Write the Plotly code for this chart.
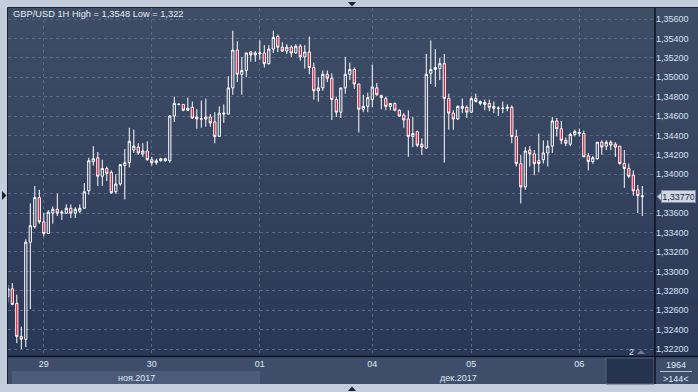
import plotly.graph_objects as go

W, H = 698, 392

# ---------------- data ----------------
title_text = "GBP/USD 1H High = 1,3548 Low = 1,322"
day_labels = ["29", "30", "01", "04", "05", "06"]
day_pos = [7, 31, 55, 80, 102, 126]
month_labels = ["ноя.2017", "дек.2017"]
price_ticks = [1.322, 1.324, 1.326, 1.328, 1.330, 1.332, 1.334, 1.336, 1.338,
               1.340, 1.342, 1.344, 1.346, 1.348, 1.350, 1.352, 1.354, 1.356]
bars_total = "1964"
bars_visible = ">144<"
scale_mark = "2"

opens = [1.3274, 1.3282, 1.3267, 1.3233, 1.3230, 1.3330, 1.3346, 1.3376, 1.3351, 1.3339,
         1.3360, 1.3364, 1.3360, 1.3360, 1.3365, 1.3360, 1.3362, 1.3365, 1.3383, 1.3413,
         1.3417, 1.3398, 1.3406, 1.3402, 1.3382, 1.3390, 1.3409, 1.3412, 1.3425, 1.3428,
         1.3421, 1.3424, 1.3415, 1.3412, 1.3414, 1.3416, 1.3414, 1.3460, 1.3472, 1.3472,
         1.3466, 1.3469, 1.3459, 1.3457, 1.3457, 1.3459, 1.3454, 1.3439, 1.3462, 1.3462,
         1.3489, 1.3528, 1.3503, 1.3507, 1.3526, 1.3523, 1.3524, 1.3525, 1.3514, 1.3529,
         1.3542, 1.3531, 1.3527, 1.3531, 1.3525, 1.3532, 1.3521, 1.3526, 1.3510, 1.3486,
         1.3489, 1.3503, 1.3499, 1.3477, 1.3464, 1.3489, 1.3503, 1.3508, 1.3493, 1.3467,
         1.3470, 1.3477, 1.3489, 1.3481, 1.3478, 1.3470, 1.3473, 1.3466, 1.3461, 1.3457,
         1.3439, 1.3444, 1.3431, 1.3427, 1.3504, 1.3508, 1.3509, 1.3514, 1.3478, 1.3463,
         1.3457, 1.3468, 1.3469, 1.3464, 1.3478, 1.3475, 1.3472, 1.3473, 1.3470, 1.3468,
         1.3468, 1.3468, 1.3469, 1.3439, 1.3411, 1.3387, 1.3425, 1.3421, 1.3414, 1.3415,
         1.3422, 1.3429, 1.3455, 1.3447, 1.3435, 1.3431, 1.3441, 1.3442, 1.3442, 1.3419,
         1.3413, 1.3416, 1.3433, 1.3429, 1.3433, 1.3431, 1.3429, 1.3411, 1.3406, 1.3399,
         1.3384, 1.3378]
highs = [1.3286, 1.3288, 1.3276, 1.3243, 1.3333, 1.3370, 1.3388, 1.3384, 1.3360, 1.3363,
         1.3367, 1.3380, 1.3363, 1.3369, 1.3369, 1.3366, 1.3369, 1.3391, 1.3417, 1.3429,
         1.3423, 1.3415, 1.3408, 1.3404, 1.3400, 1.3410, 1.3426, 1.3448, 1.3446, 1.3432,
         1.3432, 1.3434, 1.3418, 1.3416, 1.3417, 1.3417, 1.3461, 1.3480, 1.3473, 1.3472,
         1.3479, 1.3475, 1.3467, 1.3476, 1.3478, 1.3462, 1.3464, 1.3470, 1.3472, 1.3501,
         1.3548, 1.3537, 1.3521, 1.3525, 1.3527, 1.3527, 1.3538, 1.3533, 1.3533, 1.3548,
         1.3544, 1.3536, 1.3534, 1.3533, 1.3534, 1.3534, 1.3533, 1.3542, 1.3515, 1.3500,
         1.3507, 1.3507, 1.3504, 1.3480, 1.3489, 1.3521, 1.3515, 1.3510, 1.3493, 1.3482,
         1.3484, 1.3513, 1.3494, 1.3482, 1.3480, 1.3473, 1.3474, 1.3467, 1.3463, 1.3466,
         1.3459, 1.3445, 1.3437, 1.3524, 1.3538, 1.3529, 1.3520, 1.3524, 1.3483, 1.3466,
         1.3471, 1.3478, 1.3471, 1.3480, 1.3483, 1.3476, 1.3477, 1.3477, 1.3475, 1.3470,
         1.3475, 1.3472, 1.3471, 1.3446, 1.3420, 1.3428, 1.3429, 1.3425, 1.3442, 1.3435,
         1.3435, 1.3459, 1.3458, 1.3455, 1.3438, 1.3443, 1.3446, 1.3447, 1.3445, 1.3422,
         1.3419, 1.3433, 1.3435, 1.3435, 1.3435, 1.3433, 1.3429, 1.3425, 1.3411, 1.3404,
         1.3389, 1.3388]
lows = [1.3268, 1.3265, 1.3226, 1.3220, 1.3222, 1.3261, 1.3344, 1.3349, 1.3336, 1.3339,
        1.3349, 1.3357, 1.3353, 1.3359, 1.3355, 1.3355, 1.3360, 1.3365, 1.3379, 1.3409,
        1.3388, 1.3388, 1.3393, 1.3380, 1.3380, 1.3388, 1.3374, 1.3407, 1.3422, 1.3420,
        1.3418, 1.3414, 1.3409, 1.3410, 1.3413, 1.3413, 1.3412, 1.3454, 1.3471, 1.3465,
        1.3465, 1.3457, 1.3447, 1.3448, 1.3449, 1.3449, 1.3432, 1.3439, 1.3453, 1.3462,
        1.3482, 1.3495, 1.3482, 1.3500, 1.3516, 1.3516, 1.3518, 1.3510, 1.3513, 1.3525,
        1.3526, 1.3526, 1.3524, 1.3521, 1.3524, 1.3517, 1.3509, 1.3503, 1.3477, 1.3475,
        1.3486, 1.3495, 1.3456, 1.3459, 1.3458, 1.3483, 1.3497, 1.3488, 1.3443, 1.3464,
        1.3464, 1.3469, 1.3481, 1.3467, 1.3466, 1.3466, 1.3465, 1.3459, 1.3448, 1.3418,
        1.3428, 1.3428, 1.3420, 1.3426, 1.3493, 1.3490, 1.3497, 1.3412, 1.3446, 1.3446,
        1.3456, 1.3463, 1.3458, 1.3463, 1.3474, 1.3471, 1.3466, 1.3465, 1.3463, 1.3460,
        1.3463, 1.3465, 1.3432, 1.3408, 1.3370, 1.3384, 1.3408, 1.3399, 1.3402, 1.3411,
        1.3408, 1.3422, 1.3439, 1.3431, 1.3429, 1.3429, 1.3439, 1.3439, 1.3418, 1.3404,
        1.3411, 1.3415, 1.3420, 1.3425, 1.3425, 1.3418, 1.3410, 1.3386, 1.3396, 1.3378,
        1.3360, 1.3357]
closes = [1.3282, 1.3266, 1.3233, 1.3230, 1.3330, 1.3347, 1.3376, 1.3351, 1.3339, 1.3361,
          1.3364, 1.3360, 1.3361, 1.3365, 1.3360, 1.3364, 1.3365, 1.3382, 1.3414, 1.3416,
          1.3398, 1.3406, 1.3401, 1.3381, 1.3390, 1.3410, 1.3412, 1.3434, 1.3429, 1.3422,
          1.3424, 1.3415, 1.3412, 1.3414, 1.3416, 1.3414, 1.3460, 1.3473, 1.34721, 1.3466,
          1.3468, 1.3458, 1.3457, 1.34571, 1.3459, 1.3453, 1.3439, 1.3463, 1.3463, 1.3489,
          1.3528, 1.3503, 1.3507, 1.3525, 1.3523, 1.3525, 1.3525, 1.3514, 1.3529, 1.3541,
          1.3531, 1.3527, 1.3531, 1.3525, 1.3532, 1.3521, 1.3526, 1.3510, 1.3486, 1.3489,
          1.3503, 1.3499, 1.3477, 1.3464, 1.3489, 1.3503, 1.3508, 1.3493, 1.3467, 1.3470,
          1.3479, 1.3490, 1.3482, 1.3479, 1.3470, 1.3473, 1.3466, 1.3460, 1.3456, 1.3439,
          1.3442, 1.3430, 1.3428, 1.3503, 1.3508, 1.3510, 1.3514, 1.3478, 1.3463, 1.3457,
          1.3470, 1.3470, 1.3464, 1.3478, 1.3475, 1.3473, 1.3474, 1.3469, 1.3468, 1.34681,
          1.34681, 1.3469, 1.3439, 1.3411, 1.3387, 1.3424, 1.3421, 1.3411, 1.3411, 1.3422,
          1.3429, 1.3455, 1.3447, 1.3435, 1.3432, 1.3441, 1.3444, 1.3443, 1.3418, 1.3413,
          1.3417, 1.3433, 1.3428, 1.3433, 1.3430, 1.3428, 1.3411, 1.3406, 1.3398, 1.3383,
          1.3378, 1.3377]

x_index = list(range(-1, len(opens) - 1))

# ---------------- helpers ----------------
def px(x):
    return x / W

def py(y):
    return 1 - y / H

TOP, BOT, LEFT, RIGHT = 8, 356.5, 8, 655
GRID = "#5a6884"
TXT = "#dfe8f4"
FONT = "Liberation Sans, Arial, sans-serif"

last_close = closes[-1]
ypp = 0.034 / 330.0           # price per pixel
# tick labels: the one hidden under the current-price marker is left blank
price_text = [("" if abs(v - last_close) < 10 * ypp else ("%.5f" % v).replace(".", ","))
              for v in price_ticks]

fig = go.Figure()
fig.add_trace(go.Candlestick(
    x=x_index, open=opens, high=highs, low=lows, close=closes,
    increasing=dict(line=dict(color="#ffffff", width=1), fillcolor="rgba(0,0,0,0)"),
    decreasing=dict(line=dict(color="#ffffff", width=1), fillcolor="#dc0a2c"),
    whiskerwidth=0, hoverinfo="skip", showlegend=False,
))

shapes = []
# vertical gradient background (plot + price scale)
top_c = (62, 77, 102)
bot_c = (42, 56, 87)
n = 60
for k in range(n):
    t = k / (n - 1)
    col = tuple(round(top_c[j] + (bot_c[j] - top_c[j]) * t) for j in range(3))
    y0 = TOP + (BOT - TOP) * k / n
    shapes.append(dict(type="rect", xref="paper", yref="paper", layer="below",
                       x0=px(LEFT), x1=px(W), y0=py(y0), y1=py(BOT),
                       fillcolor="rgb(%d,%d,%d)" % col, line=dict(width=0)))
# bottom time panel
shapes.append(dict(type="rect", xref="paper", yref="paper", layer="below",
                   x0=px(LEFT), x1=px(W), y0=py(BOT), y1=py(384),
                   fillcolor="#3e4e6a", line=dict(width=0)))
# november band
shapes.append(dict(type="rect", xref="paper", yref="paper", layer="below",
                   x0=px(12), x1=px(260), y0=py(371), y1=py(384),
                   fillcolor="#4b5b79", line=dict(width=0)))
# dark box at end of time scale
shapes.append(dict(type="rect", xref="paper", yref="paper", layer="below",
                   x0=px(606), x1=px(654), y0=py(358), y1=py(384),
                   fillcolor="#25334f", line=dict(color="#55637c", width=1)))
# separators
shapes.append(dict(type="line", xref="paper", yref="paper", layer="above",
                   x0=px(RIGHT), x1=px(RIGHT), y0=py(TOP), y1=py(384),
                   line=dict(color="#0c1220", width=1.5)))
shapes.append(dict(type="line", xref="paper", yref="paper", layer="above",
                   x0=px(LEFT), x1=px(W), y0=py(BOT), y1=py(BOT),
                   line=dict(color="#0c1220", width=1.5)))
shapes.append(dict(type="line", xref="paper", yref="paper", layer="above",
                   x0=px(7.5), x1=px(7.5), y0=py(7.5), y1=py(384),
                   line=dict(color="#1a2130", width=1)))
shapes.append(dict(type="line", xref="paper", yref="paper", layer="above",
                   x0=px(7.5), x1=px(W), y0=py(7.5), y1=py(7.5),
                   line=dict(color="#1a2130", width=1)))
shapes.append(dict(type="line", xref="paper", yref="paper", layer="above",
                   x0=px(660), x1=px(692), y0=py(371.5), y1=py(371.5),
                   line=dict(color="#b8c2d0", width=1)))
# small navigation triangles
def tri(points, color):
    path = "M " + " L ".join("%f,%f" % (px(a), py(b)) for a, b in points) + " Z"
    return dict(type="path", xref="paper", yref="paper", layer="above", path=path,
                fillcolor=color, line=dict(width=0))
shapes.append(tri([(348, 2), (356, 2), (352, 6.5)], "#1c2333"))
shapes.append(tri([(348, 391), (356, 391), (352, 386.5)], "#1c2333"))
shapes.append(tri([(2, 191), (2, 200), (6.5, 195.5)], "#1c2333"))
shapes.append(tri([(637, 354), (645, 354), (641, 350)], "#6f7d95"))

annotations = [
    dict(text=title_text, xref="paper", yref="paper", x=px(10.5), y=py(14),
         xanchor="left", yanchor="middle", showarrow=False,
         font=dict(family=FONT, size=9.3, color="#e8eef7")),
    dict(text=month_labels[0], xref="paper", yref="paper", x=px(136), y=py(377.5),
         xanchor="center", yanchor="middle", showarrow=False,
         font=dict(family=FONT, size=9, color=TXT)),
    dict(text=month_labels[1], xref="paper", yref="paper", x=px(458), y=py(377.5),
         xanchor="center", yanchor="middle", showarrow=False,
         font=dict(family=FONT, size=9, color=TXT)),
    dict(text=bars_total, xref="paper", yref="paper", x=px(676), y=py(364.5),
         xanchor="center", yanchor="middle", showarrow=False,
         font=dict(family=FONT, size=9, color=TXT)),
    dict(text=bars_visible, xref="paper", yref="paper", x=px(676), y=py(378.5),
         xanchor="center", yanchor="middle", showarrow=False,
         font=dict(family=FONT, size=9, color=TXT)),
    dict(text=scale_mark, xref="paper", yref="paper", x=px(631), y=py(351.5),
         xanchor="center", yanchor="middle", showarrow=False,
         font=dict(family=FONT, size=9, color=TXT)),
    dict(text=("%.5f" % last_close).replace(".", ","), xref="paper", yref="y",
         x=px(678.5), y=last_close, xanchor="center", yanchor="middle", showarrow=False,
         width=32, bgcolor="#cfd7e1", bordercolor="#7f8ba0", borderwidth=1, borderpad=0.5,
         font=dict(family=FONT, size=9, color="#1a2a44")),
]
# arrow of the current price marker
shapes.append(dict(type="path", xref="paper", yref="y", layer="above",
                   path="M %f,%f L %f,%f L %f,%f Z" % (
                       px(657), last_close, px(662), last_close + 0.00048,
                       px(662), last_close - 0.00048),
                   fillcolor="#cfd7e1", line=dict(color="#7f8ba0", width=1)))

# axis ranges from pixel geometry
y_top = 1.356 + (19 - TOP) * ypp
y_bot = 1.322 - (BOT - 349) * ypp
x_left = (LEFT - 12.3) / 4.5
x_right = (RIGHT - 12.3) / 4.5

fig.update_layout(
    width=W, height=H, margin=dict(l=0, r=0, t=0, b=0, pad=0),
    paper_bgcolor="#c3cddb", plot_bgcolor="rgba(0,0,0,0)",
    separators=", ", showlegend=False, boxgap=0.3,
    shapes=shapes, annotations=annotations,
    font=dict(family=FONT),
    xaxis=dict(domain=[px(LEFT), px(RIGHT)], range=[x_left, x_right],
               tickmode="array", tickvals=day_pos, ticktext=day_labels,
               showgrid=True, gridcolor=GRID, griddash="3px,3px", gridwidth=1,
               zeroline=False, showline=False, ticks="",
               tickfont=dict(family=FONT, size=9, color=TXT),
               rangeslider=dict(visible=False), fixedrange=True),
    yaxis=dict(domain=[py(BOT), py(TOP)], range=[y_bot, y_top], side="right",
               tickmode="array", tickvals=price_ticks, ticktext=price_text,
               showgrid=True, gridcolor=GRID, griddash="3px,3px", gridwidth=1,
               zeroline=False, showline=False, ticks="",
               tickfont=dict(family=FONT, size=9, color="#d6e2f3"),
               fixedrange=True),
)

fig.write_html("out.html")
